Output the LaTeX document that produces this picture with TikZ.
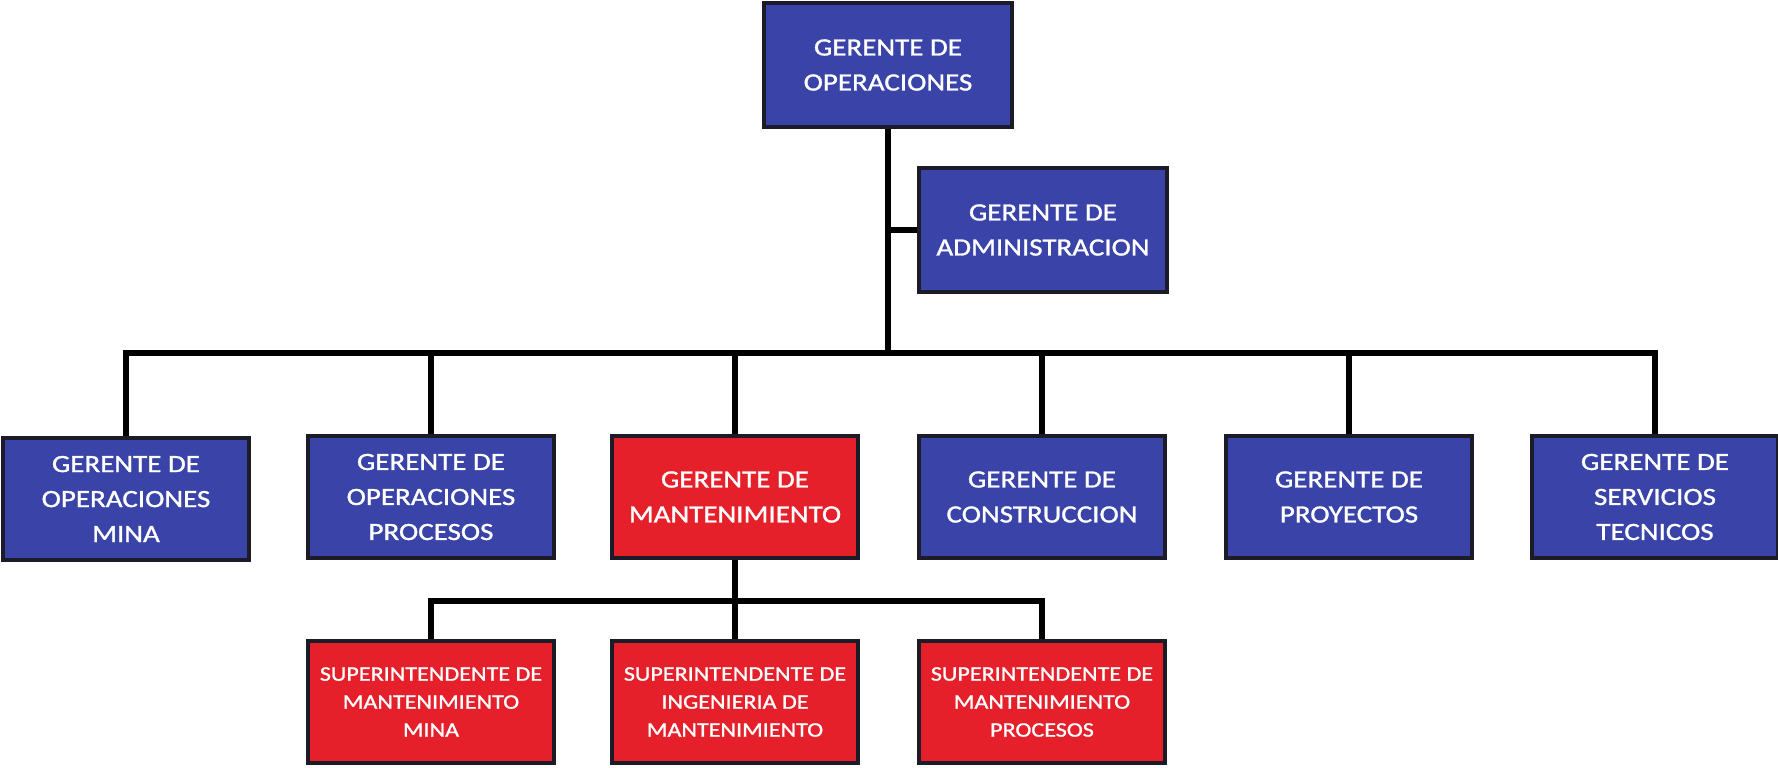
\documentclass[tikz,border=0pt]{standalone}
\usepackage{fontspec}
\setmainfont[FakeStretch=1.17, FakeBold=1.2]{Carlito}
\definecolor{boxblue}{HTML}{3A44A8}
\definecolor{boxred}{HTML}{E6202A}
\definecolor{edge}{HTML}{1C1C28}
\tikzset{
  unit box/.style={draw=edge, line width=1.8pt, text=white, align=center,
    inner sep=0pt, minimum width=123pt, minimum height=61pt},
  bluebox/.style={unit box, fill=boxblue, font=\fontsize{12.4}{17.5}\selectfont},
  redbox/.style={unit box, fill=boxred, font=\fontsize{10.3}{14}\selectfont},
  link/.style={draw=black, line width=2.8pt}
}
\begin{document}
\begin{tikzpicture}[x=0.5pt, y=-0.5pt]
  \useasboundingbox (0,0) rectangle (1778,767);

  % top of the hierarchy
  \node[bluebox, minimum width=124pt, minimum height=62pt] (top) at (888,65) {GERENTE DE\\OPERACIONES};
  \node[bluebox, minimum width=124pt, minimum height=62pt] (admin) at (1043,230) {GERENTE DE\\ADMINISTRACION};

  % managers
  \node[bluebox] (mina)  at (126,499)  {GERENTE DE\\OPERACIONES\\MINA};
  \node[bluebox] (proc)  at (431,497)  {GERENTE DE\\OPERACIONES\\PROCESOS};
  \node[redbox, font=\fontsize{12.4}{17.5}\selectfont] (mant) at (735,497) {GERENTE DE\\MANTENIMIENTO};
  \node[bluebox] (cons)  at (1042,497) {GERENTE DE\\CONSTRUCCION};
  \node[bluebox] (proy)  at (1349,497) {GERENTE DE\\PROYECTOS};
  \node[bluebox] (serv)  at (1655,497) {GERENTE DE\\SERVICIOS\\TECNICOS};

  % superintendents
  \node[redbox] (smina) at (431,702)  {SUPERINTENDENTE DE\\MANTENIMIENTO\\MINA};
  \node[redbox] (sing)  at (735,702)  {SUPERINTENDENTE DE\\INGENIERIA DE\\MANTENIMIENTO};
  \node[redbox] (sproc) at (1042,702) {SUPERINTENDENTE DE\\MANTENIMIENTO\\PROCESOS};

  % connectors
  \coordinate (bus) at (888,353);
  \coordinate (bus2) at (735,601);
  \draw[link] (top.south) -- (bus);
  \draw[link] (admin.west) -- (admin.west -| top.south);
  \foreach \n in {mina,proc,mant,cons,proy,serv}
    \draw[link] (bus) -| (\n.north);
  \draw[link] (mant.south) -- (bus2);
  \foreach \n in {smina,sing,sproc}
    \draw[link] (bus2) -| (\n.north);
\end{tikzpicture}
\end{document}
